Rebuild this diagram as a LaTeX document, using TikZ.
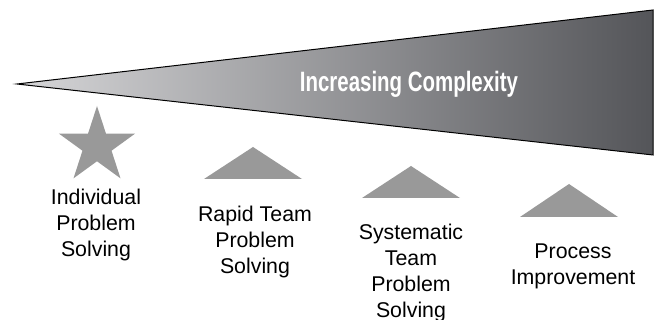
\documentclass[tikz,border=0pt]{standalone}
\usepackage{fontspec}
\setmainfont{Liberation Sans}
\usetikzlibrary{shapes.geometric}

\definecolor{shapegray}{RGB}{153,153,153}
\definecolor{wedgelight}{RGB}{214,214,216}
\definecolor{wedgedark}{RGB}{84,85,89}

\tikzset{every picture/.style={line width=0.75pt}}
\tikzset{
  markshape/.style={fill=shapegray, draw=none},
  steplabel/.style={align=center, inner sep=0pt, anchor=north, font=\fontsize{16}{19.5}\selectfont},
}

\begin{document}
\begin{tikzpicture}[x=0.75pt,y=0.75pt,yscale=-1,xscale=1]
	\useasboundingbox (0,0) rectangle (654,320);

	%Shape: Wedge
	\shade [left color=wedgelight, right color=wedgedark, draw=black, line width=0.75] (17,84) -- (653,10) -- (653,155) -- cycle ;
	% Text Node
	\node [text=white, font=\fontsize{21}{24}\selectfont\bfseries] (complexity) at (409,84) {\scalebox{0.73}[1]{Increasing Complexity}};

	%Shape: Star
	\node [star, star points=5, star point ratio=2.618, minimum size=60pt, inner sep=0pt, markshape] (star) at (97,146) {};
	%Shape: Triangle
	\fill [markshape] (204,179) -- (253,147) -- (302,179) -- cycle ;
	%Shape: Triangle
	\fill [markshape] (362,198) -- (411,166) -- (460,198) -- cycle ;
	%Shape: Triangle
	\fill [markshape] (520,217) -- (569,184) -- (618,217) -- cycle ;

	% Text Node
	\node [steplabel] (individual) at (96,189) {Individual\\Problem\\Solving};
	% Text Node
	\node [steplabel] (rapid) at (255,206) {Rapid Team\\Problem\\Solving};
	% Text Node
	\node [steplabel] (systematic) at (411,224) {Systematic\\Team\\Problem\\Solving};
	% Text Node
	\node [steplabel] (process) at (573,243) {Process\\Improvement};

\end{tikzpicture}
\end{document}
